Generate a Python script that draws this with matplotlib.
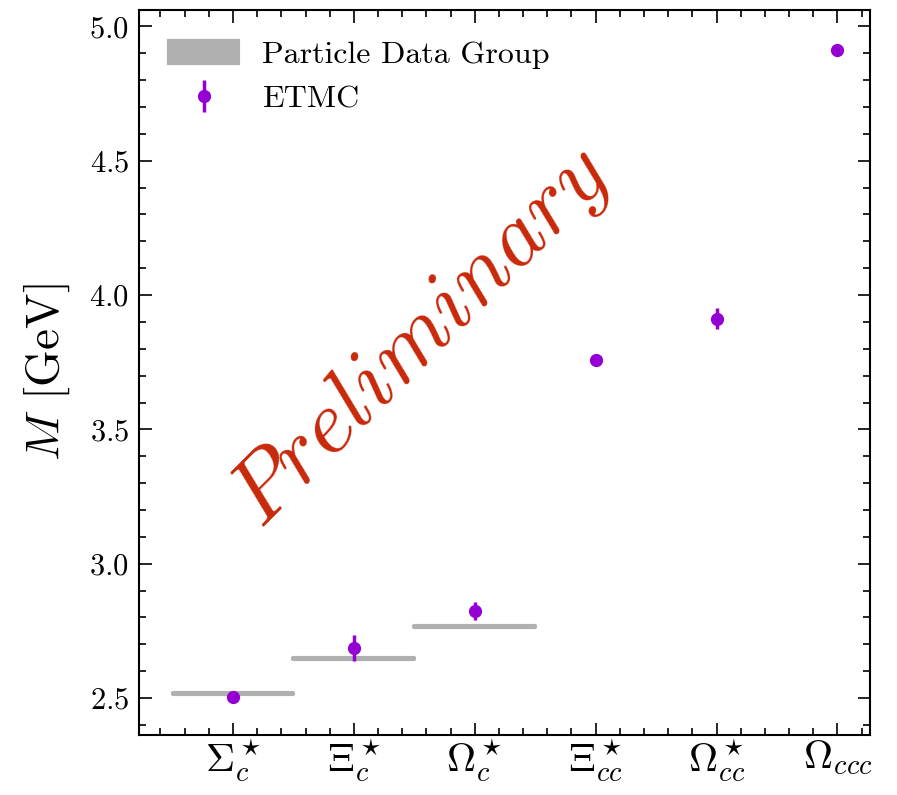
import numpy as np
import matplotlib
matplotlib.use('Agg')
import matplotlib.pyplot as plt
from matplotlib.ticker import MultipleLocator, AutoMinorLocator

plt.rcParams['font.family'] = 'serif'
plt.rcParams['font.serif'] = ['cmr10']
plt.rcParams['mathtext.fontset'] = 'cm'
plt.rcParams['axes.formatter.use_mathtext'] = True

# Baryon labels
labels = [r'$\Sigma_c^\star$', r'$\Xi_c^\star$', r'$\Omega_c^\star$',
          r'$\Xi_{cc}^\star$', r'$\Omega_{cc}^\star$', r'$\Omega_{ccc}$']

# PDG masses (only first three known)
pdg_mass = [2.518, 2.646, 2.766]
pdg_err = [0.002, 0.002, 0.002]

# ETMC lattice results
etmc_mass = [2.505, 2.686, 2.823, 3.757, 3.912, 4.913]
etmc_err = [0.006, 0.048, 0.033, 0.008, 0.040, 0.008]

fig = plt.figure(figsize=(8.97, 7.95), dpi=100)
ax = fig.add_axes([0.155, 0.0755, 0.815, 0.9115])

x = np.arange(len(labels))

# PDG bands
for i, (m, e) in enumerate(zip(pdg_mass, pdg_err)):
    ax.fill_between([x[i] - 0.5, x[i] + 0.5], m - e, m + e,
                    color='#b0b0b0', lw=3, label='Particle Data Group' if i == 0 else None)

ax.errorbar(x, etmc_mass, yerr=etmc_err, fmt='o', color='#9400d3',
            ms=8.5, elinewidth=2.5, capsize=0, label='ETMC')

ax.text(0.386, 0.548, r'$\mathit{Preliminary}$', transform=ax.transAxes,
        fontsize=65, color='#c8280a', rotation=45, ha='center', va='center')

ax.set_xlim(-0.777, 5.27)
ax.set_ylim(2.3625, 5.06)
ax.set_xticks(x)
ax.set_xticklabels(labels, fontsize=29)
ax.xaxis.set_minor_locator(AutoMinorLocator(5))
ax.yaxis.set_major_locator(MultipleLocator(0.5))
ax.yaxis.set_minor_locator(MultipleLocator(0.1))
ax.tick_params(axis='y', labelsize=22, pad=7)
ax.tick_params(which='both', direction='in', top=True, right=True, width=1.2)
ax.tick_params(which='major', length=9)
ax.tick_params(which='minor', length=5)
ax.tick_params(axis='x', pad=2)
for s in ax.spines.values():
    s.set_linewidth(1.5)

ax.set_ylabel(r'$M$ [GeV]', fontsize=34)
ax.yaxis.set_label_coords(-0.092, 0.5)

ax.legend(loc='upper left', fontsize=23, frameon=False, handlelength=2.15,
          handletextpad=0.75, labelspacing=0.5, borderaxespad=0.55)

fig.savefig('out.png', dpi=100)
